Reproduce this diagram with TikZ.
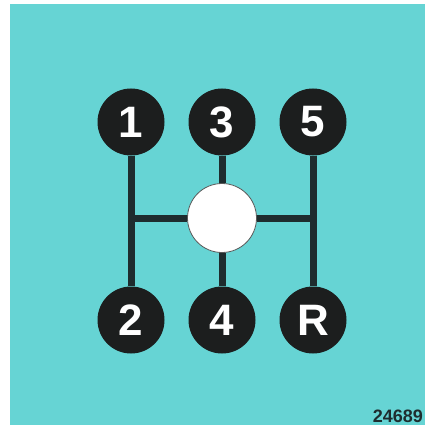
\documentclass[tikz,border=0pt]{standalone}
\usepackage{fontspec}
\setmainfont{Liberation Sans}
\definecolor{bgteal}{RGB}{102,212,212}
\definecolor{knob}{RGB}{28,30,30}
\definecolor{rail}{RGB}{30,44,46}
\pgfdeclarelayer{bg}
\pgfsetlayers{bg,main}
\begin{document}
\begin{tikzpicture}[x=1pt,y=-1pt,
  gear/.style={circle,fill=knob,minimum size=67pt,inner sep=0pt,text=white,font=\bfseries\fontsize{44}{44}\selectfont},
  hub/.style={circle,fill=white,draw=gray!70!black,line width=0.8pt,minimum size=69pt,inner sep=0pt},
  rod/.style={draw=rail,line width=7pt}]
\useasboundingbox (0,0) rectangle (425,425);
\coordinate (lj) at (131,218);
\coordinate (rj) at (313,218);
\node[hub] (n) at (222,218) {};
\node[gear] (g1) at (131,122) {1};
\node[gear] (g3) at (222,122) {3};
\node[gear] (g5) at (313,122) {5};
\node[gear] (g2) at (131,320) {2};
\node[gear] (g4) at (222,320) {4};
\node[gear] (gR) at (313,320) {R};
\node[anchor=south east,inner sep=0pt,text=rail,font=\bfseries\fontsize{18}{18}\selectfont] (code) at (423,423) {24689};
\begin{pgfonlayer}{bg}
\fill[white] (0,0) rectangle (425,425);
\fill[bgteal] (10,4) rectangle (425,425);
\draw[rod] (g1.south) -- (g2.north);
\draw[rod] (g5.south) -- (gR.north);
\draw[rod] (g3.south) -- (n.north);
\draw[rod] (n.south) -- (g4.north);
\draw[rod] (lj) -- (n.west);
\draw[rod] (n.east) -- (rj);
\end{pgfonlayer}
\end{tikzpicture}
\end{document}
